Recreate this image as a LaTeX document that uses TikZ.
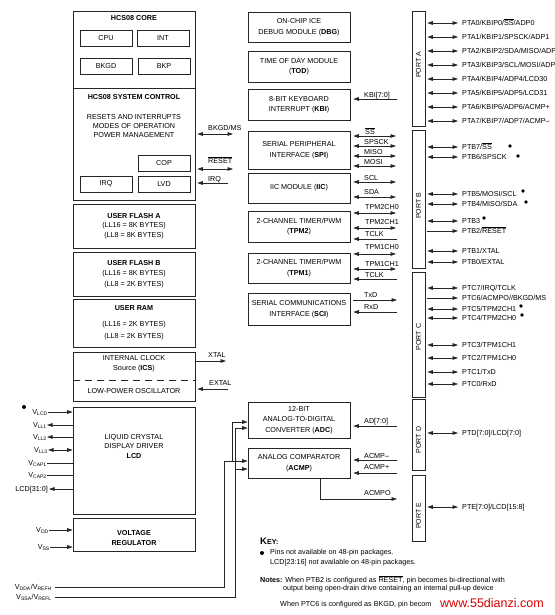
\documentclass[tikz,border=0pt]{standalone}
\usepackage{fontspec}
\setmainfont{Liberation Sans}
\setsansfont{Liberation Sans}
\usepackage{tikz}
\usetikzlibrary{arrows.meta,positioning}
\newcommand{\ovl}[1]{$\overline{\mbox{#1}}$}

\begin{document}
\begin{tikzpicture}
	[x=1pt, y=-1pt, inner sep=0pt, font=\sffamily\fontsize{7.2}{10.5}\selectfont,
	block/.style	= {rectangle, draw=black!85, line width=0.6pt, align=center},
	mainblock/.style	= {block, minimum width=122pt},
	periph/.style	= {block, minimum width=102pt},
	subblock/.style	= {block, minimum width=52pt, minimum height=16pt},
	portbox/.style	= {block, minimum width=13pt},
	portname/.style	= {rotate=90, font=\sffamily\fontsize{7}{8}\selectfont},
	pinlabel/.style	= {anchor=west, text height=5.2pt, text depth=0pt, font=\sffamily\fontsize{7.2}{8}\selectfont},
	leftpin/.style	= {anchor=east, text height=5.2pt, text depth=0pt},
	sig/.style	= {anchor=west, text height=5.2pt, text depth=0pt},
	wire/.style	= {draw=black!85, line width=0.6pt},
	sigarrow/.style	= {wire, -{Triangle[length=5.5pt, width=3.6pt]}},
	bidir/.style	= {wire, {Triangle[length=5.5pt, width=3.6pt]}-{Triangle[length=5.5pt, width=3.6pt]}},
	pinarrow/.style	= {shorten <=2pt, shorten >=4pt},
	dot/.style	= {circle, fill=black, minimum size=3.6pt},
	note/.style	= {anchor=west, font=\sffamily\fontsize{7.2}{9}\selectfont}]

	\useasboundingbox (0,0) rectangle (554,615);

	% core and system control
	\node at (134,105.5)	[mainblock, minimum height=189pt]	(core)	{};
	\draw [wire] (core.west |- 0,88) -- (core.east |- 0,88);
	\node at (134,18)		(corettl)	{\textbf{HCS08 CORE}};
	\node at (106,38)		[subblock]	(cpu)	{CPU};
	\node at (163,38)		[subblock]	(int)	{INT};
	\node at (106,66)		[subblock]	(bkgd)	{BKGD};
	\node at (164,66)		[subblock]	(bkp)	{BKP};
	\node at (134,97)		(systtl)	{\textbf{HCS08 SYSTEM CONTROL}};
	\node at (134,126)	[align=center, font=\sffamily\fontsize{7.2}{9}\selectfont]	(sysmodes)	{RESETS AND INTERRUPTS\\MODES OF OPERATION\\POWER MANAGEMENT};
	\node at (164,163)	[subblock]	(cop)	{COP};
	\node at (106,184)	[subblock]	(irq)	{IRQ};
	\node at (164,184)	[subblock]	(lvd)	{LVD};

	% memories, clock, lcd, regulator
	\node at (134,226)	[mainblock, minimum height=44pt, font=\sffamily\fontsize{7.2}{9.5}\selectfont]	(flasha)	{\textbf{USER FLASH A}\\(LL16 = 8K BYTES)\\(LL8 = 8K BYTES)};
	\node at (134,274)	[mainblock, minimum height=44pt, font=\sffamily\fontsize{7.2}{10.5}\selectfont]	(flashb)	{\textbf{USER FLASH B}\\(LL16 = 8K BYTES)\\(LL8 = 2K BYTES)};
	\node at (134,323)	[mainblock, minimum height=48pt, font=\sffamily\fontsize{7.2}{12}\selectfont]	(ram)	{\textbf{USER RAM}\\[4pt](LL16 = 2K BYTES)\\(LL8 = 2K BYTES)};
	\node at (134,376.5)	[mainblock, minimum height=49pt]	(ics)	{};
	\node at (134,364)	[align=center, font=\sffamily\fontsize{7.2}{10}\selectfont]	(icstxt)	{INTERNAL CLOCK\\Source (\textbf{ICS})};
	\draw [wire, dash pattern=on 7pt off 5pt] (ics.west |- 0,380) -- (ics.east |- 0,380);
	\node at (134,391)	(losc)	{LOW-POWER OSCILLATOR};
	\node at (134,460.5)	[mainblock, minimum height=107pt]	(lcd)	{};
	\node at (134,446.5)	[align=center, font=\sffamily\fontsize{7.2}{9.5}\selectfont]	(lcdtxt)	{LIQUID CRYSTAL\\DISPLAY DRIVER\\\textbf{LCD}};
	\node at (134,534.5)	[mainblock, minimum height=33pt]	(vreg)	{};
	\node at (134,538)	[align=center, font=\sffamily\fontsize{7.2}{10}\selectfont]	(vregtxt)	{\textbf{VOLTAGE}\\\textbf{REGULATOR}};

	% signals of the core
	\coordinate (bkgdend)	at (233,134);
	\coordinate (resetend)	at (233,169);
	\coordinate (irqend)	at (228,183);
	\coordinate (xtalend)	at (226,361);
	\coordinate (extalend)	at (228,389);
	\node at (208,128)	[sig]	(lbkgd)	{BKGD/MS};
	\node at (208,161)	[sig]	(lreset)	{\ovl{RESET}};
	\node at (208,179)	[sig]	(lirq)	{IRQ};
	\node at (208,355)	[sig]	(lxtal)	{XTAL};
	\node at (209,383)	[sig]	(lextal)	{EXTAL};
	\draw [bidir, shorten <=2pt] (core.east |- bkgdend) -- (bkgdend);
	\draw [bidir, shorten <=2pt] (core.east |- resetend) -- (resetend);
	\draw [sigarrow, shorten >=2pt] (irqend) -- (core.east |- irqend);
	\draw [sigarrow, shorten <=1pt] (ics.east |- xtalend) -- (xtalend);
	\draw [sigarrow, shorten >=2pt] (extalend) -- (ics.east |- extalend);

	% lcd and supply pins
	\node at (24,407)	[dot, minimum size=4pt]	(vlcddot)	{};
	\node at (48,412)	[leftpin]	(vlcd)	{V\textsubscript{LCD}};
	\node at (47,425)	[leftpin]	(vll1)	{V\textsubscript{LL1}};
	\node at (47,437)	[leftpin]	(vll2)	{V\textsubscript{LL2}};
	\node at (48,450)	[leftpin]	(vll3)	{V\textsubscript{LL3}};
	\node at (47,463)	[leftpin]	(vcap1)	{V\textsubscript{CAP1}};
	\node at (47,475)	[leftpin]	(vcap2)	{V\textsubscript{CAP2}};
	\node at (48,489)	[leftpin]	(lcdbus)	{LCD[31:0]};
	\node at (49,530)	[leftpin]	(vdd)	{V\textsubscript{DD}};
	\node at (50,547)	[leftpin]	(vss)	{V\textsubscript{SS}};
	\node at (52,587)	[leftpin]	(vdda)	{V\textsubscript{DDA}/V\textsubscript{REFH}};
	\node at (52,597)	[leftpin]	(vssa)	{V\textsubscript{SSA}/V\textsubscript{REFL}};
	\draw [sigarrow] (vlcd.east) -- (lcd.west |- vlcd.east);
	\draw [sigarrow] (lcd.west |- vll1.east) -- (vll1.east);
	\draw [sigarrow] (lcd.west |- vll2.east) -- (vll2.east);
	\draw [bidir] (vll3.east) -- (lcd.west |- vll3.east);
	\draw [wire] (vcap1.east) -- (lcd.west |- vcap1.east);
	\draw [wire] (vcap2.east) -- (lcd.west |- vcap2.east);
	\draw [sigarrow, shorten >=1pt] (lcd.west |- lcdbus.east) -- (lcdbus.east);
	\draw [sigarrow] (vdd.east) -- (vreg.west |- vdd.east);
	\draw [sigarrow] (vss.east) -- (vreg.west |- vss.east);

	% peripherals
	\node at (299,27)		[periph, minimum height=30pt]	(dbg)	{ON-CHIP ICE\\DEBUG MODULE (\textbf{DBG})};
	\node at (299,66.5)	[periph, minimum height=31pt]	(tod)	{TIME OF DAY MODULE\\(\textbf{TOD})};
	\node at (299,104.5)	[periph, minimum height=31pt]	(kbi)	{8-BIT KEYBOARD\\INTERRUPT (\textbf{KBI})};
	\node at (299,150)	[periph, minimum height=38pt]	(spi)	{SERIAL PERIPHERAL\\INTERFACE (\textbf{SPI})};
	\node at (299,188)	[periph, minimum height=30pt]	(iic)	{IIC MODULE (\textbf{IIC})};
	\node at (299,226.5)	[periph, minimum height=31pt]	(tpm2)	{2-CHANNEL TIMER/PWM\\(\textbf{TPM2})};
	\node at (299,268)	[periph, minimum height=30pt]	(tpm1)	{2-CHANNEL TIMER/PWM\\(\textbf{TPM1})};
	\node at (299,309)	[periph, minimum height=32pt]	(sci)	{SERIAL COMMUNICATIONS\\INTERFACE (\textbf{SCI})};
	\node at (299,420)	[periph, minimum height=36pt]	(adc)	{12-BIT\\ANALOG-TO-DIGITAL\\CONVERTER (\textbf{ADC})};
	\node at (299,463)	[periph, minimum height=30pt]	(acmp)	{ANALOG COMPARATOR\\(\textbf{ACMP})};

	% analog supply to adc and acmp
	\coordinate (vddaup)	at (224,461);
	\coordinate (vddabr)	at (232,461);
	\coordinate (vddaadc)	at (232,422);
	\coordinate (vssaup)	at (235,428);
	\coordinate (vssabr)	at (235,469);
	\draw [sigarrow, shorten <=3pt] (vdda.east) -| (vddaup) -- (acmp.west |- vddaup);
	\draw [sigarrow] (vddabr) -- (vddaadc) -- (adc.west |- vddaadc);
	\draw [sigarrow, shorten <=3pt] (vssa.east) -| (vssaup) -- (adc.west |- vssaup);
	\draw [sigarrow] (vssabr) -- (acmp.west |- vssabr);

	% peripheral signals
	\coordinate (kbiend)	at (397,99);
	\coordinate (ssend)	at (396,136);
	\coordinate (spsckend)	at (396,146);
	\coordinate (misoend)	at (396,156);
	\coordinate (mosiend)	at (396,166);
	\coordinate (sclend)	at (396,182);
	\coordinate (sdaend)	at (396,197);
	\coordinate (tpmiiend)	at (396,213);
	\coordinate (tpmiiiend)	at (396,228);
	\coordinate (tclkiiend)	at (397,239);
	\coordinate (tpmiend)	at (396,254);
	\coordinate (tpmiaend)	at (396,269);
	\coordinate (tclkiend)	at (397,279);
	\coordinate (txdend)	at (397,300);
	\coordinate (rxdend)	at (397,312);
	\coordinate (adend)	at (397,426);
	\coordinate (acmpmend)	at (397,460);
	\coordinate (acmppend)	at (397,473);
	\coordinate (acmpoend)	at (397,499);
	\node at (364,95)		[sig]	(lkbi)	{KBI[7:0]};
	\node at (365,132)	[sig]	(lss)	{\ovl{SS}};
	\node at (364,142)	[sig]	(lspsck)	{SPSCK};
	\node at (364,152)	[sig]	(lmiso)	{MISO};
	\node at (364,162)	[sig]	(lmosi)	{MOSI};
	\node at (364,178)	[sig]	(lscl)	{SCL};
	\node at (364,192)	[sig]	(lsda)	{SDA};
	\node at (365,207)	[sig]	(ltpmii)	{TPM2CH0};
	\node at (365,222)	[sig]	(ltpmiii)	{TPM2CH1};
	\node at (365,234)	[sig]	(ltclkii)	{TCLK};
	\node at (365,247)	[sig]	(ltpmi)	{TPM1CH0};
	\node at (365,264)	[sig]	(ltpmia)	{TPM1CH1};
	\node at (365,275)	[sig]	(ltclki)	{TCLK};
	\node at (364,295)	[sig]	(ltxd)	{TxD};
	\node at (364,307)	[sig]	(lrxd)	{RxD};
	\node at (364,421)	[sig]	(lad)	{AD[7:0]};
	\node at (364,456)	[sig]	(lacmpm)	{ACMP–};
	\node at (364,467)	[sig]	(lacmpp)	{ACMP+};
	\node at (364,493)	[sig]	(lacmpo)	{ACMPO};
	\draw [sigarrow, shorten >=3pt] (kbiend) -- (kbi.east |- kbiend);
	\draw [bidir, shorten <=3pt] (spi.east |- ssend) -- (ssend);
	\draw [bidir, shorten <=3pt] (spi.east |- spsckend) -- (spsckend);
	\draw [bidir, shorten <=3pt] (spi.east |- misoend) -- (misoend);
	\draw [bidir, shorten <=3pt] (spi.east |- mosiend) -- (mosiend);
	\draw [bidir, shorten <=3pt] (iic.east |- sclend) -- (sclend);
	\draw [bidir, shorten <=3pt] (iic.east |- sdaend) -- (sdaend);
	\draw [bidir, shorten <=3pt] (tpm2.east |- tpmiiend) -- (tpmiiend);
	\draw [bidir, shorten <=3pt] (tpm2.east |- tpmiiiend) -- (tpmiiiend);
	\draw [sigarrow, shorten >=3pt] (tclkiiend) -- (tpm2.east |- tclkiiend);
	\draw [bidir, shorten <=3pt] (tpm1.east |- tpmiend) -- (tpmiend);
	\draw [bidir, shorten <=3pt] (tpm1.east |- tpmiaend) -- (tpmiaend);
	\draw [sigarrow, shorten >=3pt] (tclkiend) -- (tpm1.east |- tclkiend);
	\draw [sigarrow, shorten <=3pt] (sci.east |- txdend) -- (txdend);
	\draw [sigarrow, shorten >=3pt] (rxdend) -- (sci.east |- rxdend);
	\draw [sigarrow, shorten >=3pt] (adend) -- (adc.east |- adend);
	\draw [sigarrow, shorten >=3pt] (acmpmend) -- (acmp.east |- acmpmend);
	\draw [sigarrow, shorten >=3pt] (acmppend) -- (acmp.east |- acmppend);
	\draw [sigarrow] ([xshift=21pt]acmp.south) |- (acmpoend);

	% ports
	\node at (418.5,68.5)	[portbox, minimum height=115pt]	(porta)	{};
	\node at (418.5,199)	[portbox, minimum height=138pt]	(portb)	{};
	\node at (418.5,334.5)	[portbox, minimum height=125pt]	(portc)	{};
	\node at (418.5,434.5)	[portbox, minimum height=71pt]	(portd)	{};
	\node at (418.5,508)	[portbox, minimum height=66pt]	(porte)	{};
	\node at (418.5,65)	[portname]	(lporta)	{PORT A};
	\node at (418.5,206)	[portname]	(lportb)	{PORT B};
	\node at (418.5,337)	[portname]	(lportc)	{PORT C};
	\node at (418.5,440)	[portname]	(lportd)	{PORT D};
	\node at (418.5,516)	[portname]	(lporte)	{PORT E};

	% port pins
	\node at (462,23)		[pinlabel]	(pta0)	{PTA0/KBIP0/\ovl{SS}/ADP0};
	\node at (462,37)		[pinlabel]	(pta1)	{PTA1/KBIP1/SPSCK/ADP1};
	\node at (462,51)		[pinlabel]	(pta2)	{PTA2/KBIP2/SDA/MISO/ADP2};
	\node at (462,65)		[pinlabel]	(pta3)	{PTA3/KBIP3/SCL/MOSI/ADP3};
	\node at (462,79)		[pinlabel]	(pta4)	{PTA4/KBIP4/ADP4/LCD30};
	\node at (462,93)		[pinlabel]	(pta5)	{PTA5/KBIP5/ADP5/LCD31};
	\node at (462,107)	[pinlabel]	(pta6)	{PTA6/KBIP6/ADP6/ACMP+};
	\node at (462,121)	[pinlabel]	(pta7)	{PTA7/KBIP7/ADP7/ACMP–};
	\node at (462,147)	[pinlabel]	(ptb7)	{PTB7/\ovl{SS}};
	\node at (462,157)	[pinlabel]	(ptb6)	{PTB6/SPSCK};
	\node at (462,194)	[pinlabel]	(ptb5)	{PTB5/MOSI/SCL};
	\node at (462,204)	[pinlabel]	(ptb4)	{PTB4/MISO/SDA};
	\node at (462,221)	[pinlabel]	(ptb3)	{PTB3};
	\node at (462,231)	[pinlabel]	(ptb2)	{PTB2/\ovl{RESET}};
	\node at (462,251)	[pinlabel]	(ptb1)	{PTB1/XTAL};
	\node at (462,262)	[pinlabel]	(ptb0)	{PTB0/EXTAL};
	\node at (462,288)	[pinlabel]	(ptc7)	{PTC7/IRQ/TCLK};
	\node at (462,298)	[pinlabel]	(ptc6)	{PTC6/ACMPO//BKGD/MS};
	\node at (462,309)	[pinlabel]	(ptc5)	{PTC5/TPM2CH1};
	\node at (462,318)	[pinlabel]	(ptc4)	{PTC4/TPM2CH0};
	\node at (462,345)	[pinlabel]	(ptc3)	{PTC3/TPM1CH1};
	\node at (462,358)	[pinlabel]	(ptc2)	{PTC2/TPM1CH0};
	\node at (462,372)	[pinlabel]	(ptc1)	{PTC1/TxD};
	\node at (462,384)	[pinlabel]	(ptc0)	{PTC0/RxD};
	\node at (462,433)	[pinlabel]	(ptd)	{PTD[7:0]/LCD[7:0]};
	\node at (462,507)	[pinlabel]	(pte)	{PTE[7:0]/LCD[15:8]};
	\draw [bidir, pinarrow] (porta.east |- pta0.west) -- (pta0.west);
	\draw [bidir, pinarrow] (porta.east |- pta1.west) -- (pta1.west);
	\draw [bidir, pinarrow] (porta.east |- pta2.west) -- (pta2.west);
	\draw [bidir, pinarrow] (porta.east |- pta3.west) -- (pta3.west);
	\draw [bidir, pinarrow] (porta.east |- pta4.west) -- (pta4.west);
	\draw [bidir, pinarrow] (porta.east |- pta5.west) -- (pta5.west);
	\draw [bidir, pinarrow] (porta.east |- pta6.west) -- (pta6.west);
	\draw [bidir, pinarrow] (porta.east |- pta7.west) -- (pta7.west);
	\draw [bidir, pinarrow] (portb.east |- ptb7.west) -- (ptb7.west);
	\draw [bidir, pinarrow] (portb.east |- ptb6.west) -- (ptb6.west);
	\draw [bidir, pinarrow] (portb.east |- ptb5.west) -- (ptb5.west);
	\draw [bidir, pinarrow] (portb.east |- ptb4.west) -- (ptb4.west);
	\draw [bidir, pinarrow] (portb.east |- ptb3.west) -- (ptb3.west);
	\draw [sigarrow, pinarrow] (portb.east |- ptb2.west) -- (ptb2.west);
	\draw [bidir, pinarrow] (portb.east |- ptb1.west) -- (ptb1.west);
	\draw [bidir, pinarrow] (portb.east |- ptb0.west) -- (ptb0.west);
	\draw [bidir, pinarrow] (portc.east |- ptc7.west) -- (ptc7.west);
	\draw [sigarrow, pinarrow] (portc.east |- ptc6.west) -- (ptc6.west);
	\draw [bidir, pinarrow] (portc.east |- ptc5.west) -- (ptc5.west);
	\draw [bidir, pinarrow] (portc.east |- ptc4.west) -- (ptc4.west);
	\draw [bidir, pinarrow] (portc.east |- ptc3.west) -- (ptc3.west);
	\draw [bidir, pinarrow] (portc.east |- ptc2.west) -- (ptc2.west);
	\draw [bidir, pinarrow] (portc.east |- ptc1.west) -- (ptc1.west);
	\draw [bidir, pinarrow] (portc.east |- ptc0.west) -- (ptc0.west);
	\draw [bidir, pinarrow] (portd.east |- ptd.west) -- (ptd.west);
	\draw [bidir, pinarrow] (porte.east |- pte.west) -- (pte.west);

	% pins missing on 48-pin packages
	\node at (510,146)	[dot]	(dotbvii)	{};
	\node at (518,156)	[dot]	(dotbvi)	{};
	\node at (523,191)	[dot]	(dotbv)	{};
	\node at (526,202)	[dot]	(dotbiv)	{};
	\node at (484,218)	[dot]	(dotbiii)	{};
	\node at (521,306)	[dot]	(dotcv)	{};
	\node at (522,315)	[dot]	(dotciv)	{};

	% key and notes
	\node at (260,541)	[note]	(keyttl)	{\textbf{{\fontsize{9.5}{10}\selectfont K}EY:}};
	\node at (262,553)	[dot, minimum size=4pt]	(keydot)	{};
	\node at (270,553)	[note]	(keyi)	{Pins not available on 48-pin packages.};
	\node at (270,563)	[note]	(keyii)	{LCD[23:16] not available on 48-pin packages.};
	\node at (260,580)	[note]	(notei)	{\textbf{Notes:} When PTB2 is configured as \ovl{RESET}, pin becomes bi-directional with};
	\node at (283,589)	[note]	(noteii)	{output being open-drain drive containing an internal pull-up device};
	\fill [white] (383,591.5) rectangle (554,615);
	\node at (280,605)	[note]	(noteiii)	{When PTC6 is configured as BKGD, pin becom};
	\node at (440,603)	[anchor=west, text=red!85!black, font=\sffamily\fontsize{12.5}{13}\selectfont]	(mark)	{www.55dianzi.com};
\end{tikzpicture}
\end{document}
